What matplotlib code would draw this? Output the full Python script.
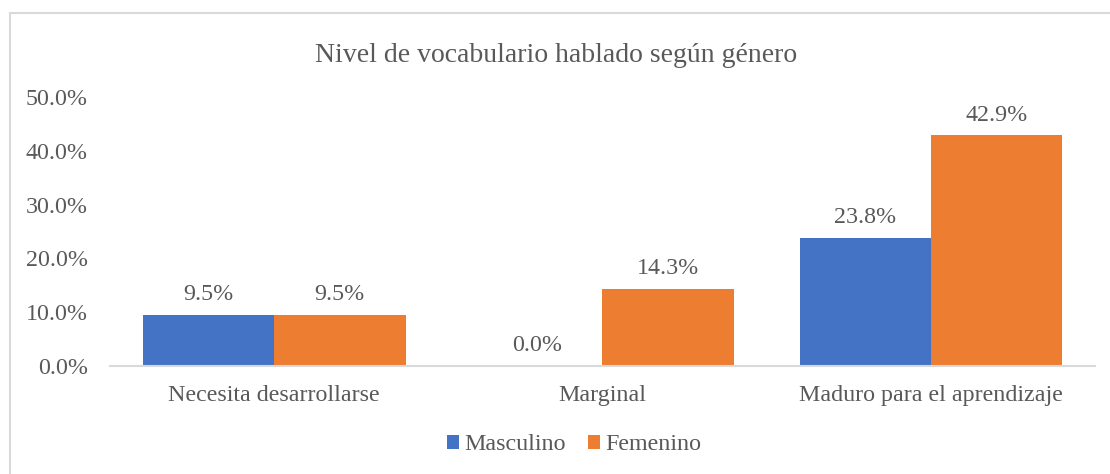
import matplotlib
matplotlib.use("Agg")
import matplotlib.pyplot as plt
import numpy as np
from matplotlib.patches import Rectangle

categories = ["Necesita desarrollarse", "Marginal", "Maduro para el aprendizaje"]
masculino = [9.5, 0.0, 23.8]
femenino = [9.5, 14.3, 42.9]
yticks = [0, 10, 20, 30, 40, 50]
title = "Nivel de vocabulario hablado según género"

plt.rcParams['font.family'] = ['Liberation Serif', 'DejaVu Serif']
txt = '#595959'
blue = '#4472C4'
orange = '#ED7D31'
fs = 17.3

fig = plt.figure(figsize=(11.1, 4.74), dpi=100)
ax = fig.add_axes([110/1110, 1-366/474, (1095-110)/1110, (366-97)/474])

x = np.arange(len(categories))
w = 0.4
b1 = ax.bar(x - w/2, masculino, w, color=blue, label="Masculino")
b2 = ax.bar(x + w/2, femenino, w, color=orange, label="Femenino")

for bars, vals in ((b1, masculino), (b2, femenino)):
    for r, v in zip(bars, vals):
        ax.text(r.get_x() + r.get_width()/2, v + 1.8, f"{v:.1f}%", ha='center', va='bottom',
                fontsize=fs, color=txt)

ax.set_xlim(-0.5, 2.5)
ax.set_ylim(0, 50)
ax.set_yticks(yticks)
ax.set_yticklabels([f"{t:.1f}%" for t in yticks], fontsize=fs, color=txt)
ax.set_xticks(x)
ax.set_xticklabels(categories, fontsize=fs, color=txt)
ax.tick_params(axis='both', length=0)
ax.tick_params(axis='y', pad=16)
ax.tick_params(axis='x', pad=14)
for s in ['top', 'right', 'left']:
    ax.spines[s].set_visible(False)
ax.spines['bottom'].set_color('#D9D9D9')
ax.spines['bottom'].set_linewidth(1.5)

fig.text(556/1110, 1-55/474, title, ha='center', va='center', fontsize=20, color=txt)

leg = fig.legend(handles=[b1, b2], loc='center', bbox_to_anchor=(574/1110, 1-445/474),
                 ncol=2, frameon=False, fontsize=fs, handlelength=0.5, handleheight=0.5,
                 handletextpad=0.2, columnspacing=0.95)
for t in leg.get_texts():
    t.set_color(txt)

fig.patches.append(Rectangle((10/1110, -0.1), 1.2, 1-13/474 + 0.1, transform=fig.transFigure,
                             fill=False, edgecolor='#D9D9D9', linewidth=1.5))

fig.savefig("out.png", dpi=100)
